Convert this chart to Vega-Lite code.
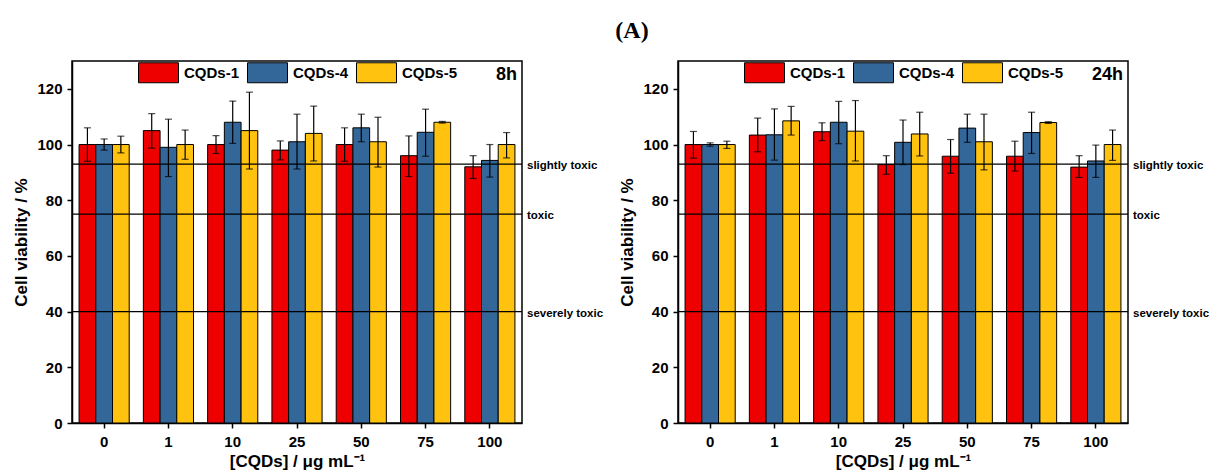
{
  "$schema": "https://vega.github.io/schema/vega-lite/v6.json",
  "background": "white",
  "padding": {"left": 12, "top": 19, "right": 2, "bottom": 0},
  "title": {"text": "(A)", "font": "Liberation Serif", "fontSize": 24, "fontWeight": "bold", "anchor": "middle", "dx": 21, "offset": 8, "color": "black"},
  "config": {
    "view": {"stroke": "black", "strokeWidth": 1.5},
    "axis": {
      "domainColor": "black", "domainWidth": 1.5, "tickColor": "black", "tickWidth": 1.5, "tickSize": 5,
      "labelFont": "Liberation Sans", "labelFontWeight": "bold", "labelFontSize": 15, "labelColor": "black",
      "titleFont": "Liberation Sans", "titleFontWeight": "bold", "titleFontSize": 17, "titleColor": "black", "grid": false
    },
    "legend": {
      "orient": "none", "legendX": 66, "legendY": -9, "direction": "horizontal",
      "symbolType": "M-1,-0.5H1V0.5H-1Z", "symbolSize": 1600, "symbolStrokeColor": "black", "symbolStrokeWidth": 1, "symbolOpacity": 1,
      "labelFont": "Liberation Sans", "labelFontWeight": "bold", "labelFontSize": 15, "labelColor": "black", "labelOffset": 5, "columnPadding": 5, "title": null
    }
  },
  "datasets": {
    "b8": [
      {"conc": "0", "series": "CQDs-1", "value": 100, "lo": 94, "hi": 106},
      {"conc": "0", "series": "CQDs-4", "value": 100, "lo": 98, "hi": 102},
      {"conc": "0", "series": "CQDs-5", "value": 100, "lo": 97, "hi": 103},
      {"conc": "1", "series": "CQDs-1", "value": 105, "lo": 98.7, "hi": 111.1},
      {"conc": "1", "series": "CQDs-4", "value": 99, "lo": 88.5, "hi": 109.1},
      {"conc": "1", "series": "CQDs-5", "value": 100, "lo": 94.7, "hi": 105.2},
      {"conc": "10", "series": "CQDs-1", "value": 100, "lo": 96.8, "hi": 103.2},
      {"conc": "10", "series": "CQDs-4", "value": 108, "lo": 100.4, "hi": 115.6},
      {"conc": "10", "series": "CQDs-5", "value": 105, "lo": 91.2, "hi": 118.8},
      {"conc": "25", "series": "CQDs-1", "value": 98, "lo": 94.5, "hi": 101.3},
      {"conc": "25", "series": "CQDs-4", "value": 101, "lo": 91.2, "hi": 110.9},
      {"conc": "25", "series": "CQDs-5", "value": 104, "lo": 94.1, "hi": 113.8},
      {"conc": "50", "series": "CQDs-1", "value": 100, "lo": 94, "hi": 106},
      {"conc": "50", "series": "CQDs-4", "value": 106, "lo": 101, "hi": 110.9},
      {"conc": "50", "series": "CQDs-5", "value": 101, "lo": 91.9, "hi": 109.8},
      {"conc": "75", "series": "CQDs-1", "value": 96, "lo": 88.5, "hi": 103.1},
      {"conc": "75", "series": "CQDs-4", "value": 104.4, "lo": 95.8, "hi": 112.7},
      {"conc": "75", "series": "CQDs-5", "value": 108, "lo": 107.7, "hi": 108.3},
      {"conc": "100", "series": "CQDs-1", "value": 92, "lo": 87.8, "hi": 96},
      {"conc": "100", "series": "CQDs-4", "value": 94.3, "lo": 88.3, "hi": 100},
      {"conc": "100", "series": "CQDs-5", "value": 100, "lo": 95.2, "hi": 104.3}
    ],
    "b24": [
      {"conc": "0", "series": "CQDs-1", "value": 100, "lo": 95.1, "hi": 104.7},
      {"conc": "0", "series": "CQDs-4", "value": 100, "lo": 99.4, "hi": 100.6},
      {"conc": "0", "series": "CQDs-5", "value": 100, "lo": 98.6, "hi": 101.2},
      {"conc": "1", "series": "CQDs-1", "value": 103.4, "lo": 97.4, "hi": 109.5},
      {"conc": "1", "series": "CQDs-4", "value": 103.5, "lo": 94.4, "hi": 112.8},
      {"conc": "1", "series": "CQDs-5", "value": 108.5, "lo": 103.4, "hi": 113.7},
      {"conc": "10", "series": "CQDs-1", "value": 104.6, "lo": 101.4, "hi": 107.8},
      {"conc": "10", "series": "CQDs-4", "value": 108, "lo": 100.3, "hi": 115.5},
      {"conc": "10", "series": "CQDs-5", "value": 104.8, "lo": 94.1, "hi": 115.8},
      {"conc": "25", "series": "CQDs-1", "value": 92.8, "lo": 89.3, "hi": 96},
      {"conc": "25", "series": "CQDs-4", "value": 100.8, "lo": 92.8, "hi": 108.8},
      {"conc": "25", "series": "CQDs-5", "value": 103.8, "lo": 95.9, "hi": 111.6},
      {"conc": "50", "series": "CQDs-1", "value": 95.8, "lo": 89.7, "hi": 101.8},
      {"conc": "50", "series": "CQDs-4", "value": 105.9, "lo": 100.8, "hi": 110.9},
      {"conc": "50", "series": "CQDs-5", "value": 101, "lo": 90.9, "hi": 110.9},
      {"conc": "75", "series": "CQDs-1", "value": 95.8, "lo": 90.5, "hi": 101.2},
      {"conc": "75", "series": "CQDs-4", "value": 104.3, "lo": 96.8, "hi": 111.6},
      {"conc": "75", "series": "CQDs-5", "value": 107.9, "lo": 107.6, "hi": 108.2},
      {"conc": "100", "series": "CQDs-1", "value": 91.9, "lo": 88.2, "hi": 96},
      {"conc": "100", "series": "CQDs-4", "value": 94.1, "lo": 88.2, "hi": 99.8},
      {"conc": "100", "series": "CQDs-5", "value": 100, "lo": 94.3, "hi": 105.2}
    ],
    "refs": [
      {"v": 93, "label": "slightly toxic"},
      {"v": 75, "label": "toxic"},
      {"v": 40, "label": "severely toxic"}
    ]
  },
  "spacing": 156,
  "bounds": "flush",
  "resolve": {"scale": {"color": "independent"}, "legend": {"color": "independent"}},
  "hconcat": [
    {
      "width": 450, "height": 362,
      "layer": [
        {
          "data": {"name": "b8"},
          "mark": {"type": "bar", "stroke": "black", "strokeWidth": 1},
          "encoding": {
            "x": {"field": "conc", "type": "ordinal", "sort": ["0", "1", "10", "25", "50", "75", "100"], "scale": {"paddingInner": 0.22, "paddingOuter": 0.11}, "title": "[CQDs] / μg mL⁻¹", "axis": {"labelAngle": 0, "labelPadding": 6, "titlePadding": 4}},
            "xOffset": {"field": "series", "type": "nominal", "scale": {"paddingInner": 0, "paddingOuter": 0}},
            "y": {"field": "value", "type": "quantitative", "scale": {"domain": [0, 130], "nice": false}, "title": "Cell viability / %", "axis": {"values": [0, 10, 20, 30, 40, 50, 60, 70, 80, 90, 100, 110, 120], "labelExpr": "datum.value % 20 === 0 ? datum.label : ''", "tickSize": {"condition": {"test": "datum.value % 20 === 0", "value": 5}, "value": 3}, "titlePadding": 6, "labelPadding": 5}},
            "color": {"field": "series", "type": "nominal", "scale": {"domain": ["CQDs-1", "CQDs-4", "CQDs-5"], "range": ["#EE0000", "#336699", "#FFC20E"]}}
          }
        },
        {
          "data": {"name": "b8"},
          "mark": {"type": "rule", "color": "black", "strokeWidth": 1.2},
          "encoding": {
            "x": {"field": "conc", "type": "ordinal", "sort": ["0", "1", "10", "25", "50", "75", "100"]},
            "xOffset": {"field": "series", "type": "nominal"},
            "y": {"field": "lo", "type": "quantitative"},
            "y2": {"field": "hi"}
          }
        },
        {
          "data": {"name": "b8"},
          "mark": {"type": "tick", "color": "black", "size": 7, "thickness": 1.2},
          "encoding": {
            "x": {"field": "conc", "type": "ordinal", "sort": ["0", "1", "10", "25", "50", "75", "100"]},
            "xOffset": {"field": "series", "type": "nominal"},
            "y": {"field": "lo", "type": "quantitative"}
          }
        },
        {
          "data": {"name": "b8"},
          "mark": {"type": "tick", "color": "black", "size": 7, "thickness": 1.2},
          "encoding": {
            "x": {"field": "conc", "type": "ordinal", "sort": ["0", "1", "10", "25", "50", "75", "100"]},
            "xOffset": {"field": "series", "type": "nominal"},
            "y": {"field": "hi", "type": "quantitative"}
          }
        },
        {
          "data": {"name": "refs"},
          "mark": {"type": "rule", "color": "black", "strokeWidth": 1.3},
          "encoding": {"y": {"field": "v", "type": "quantitative"}}
        },
        {
          "data": {"name": "refs"},
          "mark": {"type": "text", "x": "width", "dx": 5, "dy": 2, "align": "left", "baseline": "middle", "font": "Liberation Sans", "fontWeight": "bold", "fontSize": 11.5, "color": "black"},
          "encoding": {"y": {"field": "v", "type": "quantitative"}, "text": {"field": "label"}}
        },
        {
          "data": {"values": [{"t": "8h", "y": 124.8}]},
          "mark": {"type": "text", "x": "width", "dx": -5, "align": "right", "baseline": "middle", "font": "Liberation Sans", "fontWeight": "bold", "fontSize": 18, "color": "black"},
          "encoding": {"y": {"field": "y", "type": "quantitative"}, "text": {"field": "t"}}
        }
      ]
    },
    {
      "width": 450, "height": 362,
      "layer": [
        {
          "data": {"name": "b24"},
          "mark": {"type": "bar", "stroke": "black", "strokeWidth": 1},
          "encoding": {
            "x": {"field": "conc", "type": "ordinal", "sort": ["0", "1", "10", "25", "50", "75", "100"], "scale": {"paddingInner": 0.22, "paddingOuter": 0.11}, "title": "[CQDs] / μg mL⁻¹", "axis": {"labelAngle": 0, "labelPadding": 6, "titlePadding": 4}},
            "xOffset": {"field": "series", "type": "nominal", "scale": {"paddingInner": 0, "paddingOuter": 0}},
            "y": {"field": "value", "type": "quantitative", "scale": {"domain": [0, 130], "nice": false}, "title": "Cell viability / %", "axis": {"values": [0, 10, 20, 30, 40, 50, 60, 70, 80, 90, 100, 110, 120], "labelExpr": "datum.value % 20 === 0 ? datum.label : ''", "tickSize": {"condition": {"test": "datum.value % 20 === 0", "value": 5}, "value": 3}, "titlePadding": 6, "labelPadding": 5}},
            "color": {"field": "series", "type": "nominal", "scale": {"domain": ["CQDs-1", "CQDs-4", "CQDs-5"], "range": ["#EE0000", "#336699", "#FFC20E"]}}
          }
        },
        {
          "data": {"name": "b24"},
          "mark": {"type": "rule", "color": "black", "strokeWidth": 1.2},
          "encoding": {
            "x": {"field": "conc", "type": "ordinal", "sort": ["0", "1", "10", "25", "50", "75", "100"]},
            "xOffset": {"field": "series", "type": "nominal"},
            "y": {"field": "lo", "type": "quantitative"},
            "y2": {"field": "hi"}
          }
        },
        {
          "data": {"name": "b24"},
          "mark": {"type": "tick", "color": "black", "size": 7, "thickness": 1.2},
          "encoding": {
            "x": {"field": "conc", "type": "ordinal", "sort": ["0", "1", "10", "25", "50", "75", "100"]},
            "xOffset": {"field": "series", "type": "nominal"},
            "y": {"field": "lo", "type": "quantitative"}
          }
        },
        {
          "data": {"name": "b24"},
          "mark": {"type": "tick", "color": "black", "size": 7, "thickness": 1.2},
          "encoding": {
            "x": {"field": "conc", "type": "ordinal", "sort": ["0", "1", "10", "25", "50", "75", "100"]},
            "xOffset": {"field": "series", "type": "nominal"},
            "y": {"field": "hi", "type": "quantitative"}
          }
        },
        {
          "data": {"name": "refs"},
          "mark": {"type": "rule", "color": "black", "strokeWidth": 1.3},
          "encoding": {"y": {"field": "v", "type": "quantitative"}}
        },
        {
          "data": {"name": "refs"},
          "mark": {"type": "text", "x": "width", "dx": 5, "dy": 2, "align": "left", "baseline": "middle", "font": "Liberation Sans", "fontWeight": "bold", "fontSize": 11.5, "color": "black"},
          "encoding": {"y": {"field": "v", "type": "quantitative"}, "text": {"field": "label"}}
        },
        {
          "data": {"values": [{"t": "24h", "y": 124.8}]},
          "mark": {"type": "text", "x": "width", "dx": -5, "align": "right", "baseline": "middle", "font": "Liberation Sans", "fontWeight": "bold", "fontSize": 18, "color": "black"},
          "encoding": {"y": {"field": "y", "type": "quantitative"}, "text": {"field": "t"}}
        }
      ]
    }
  ]
}
